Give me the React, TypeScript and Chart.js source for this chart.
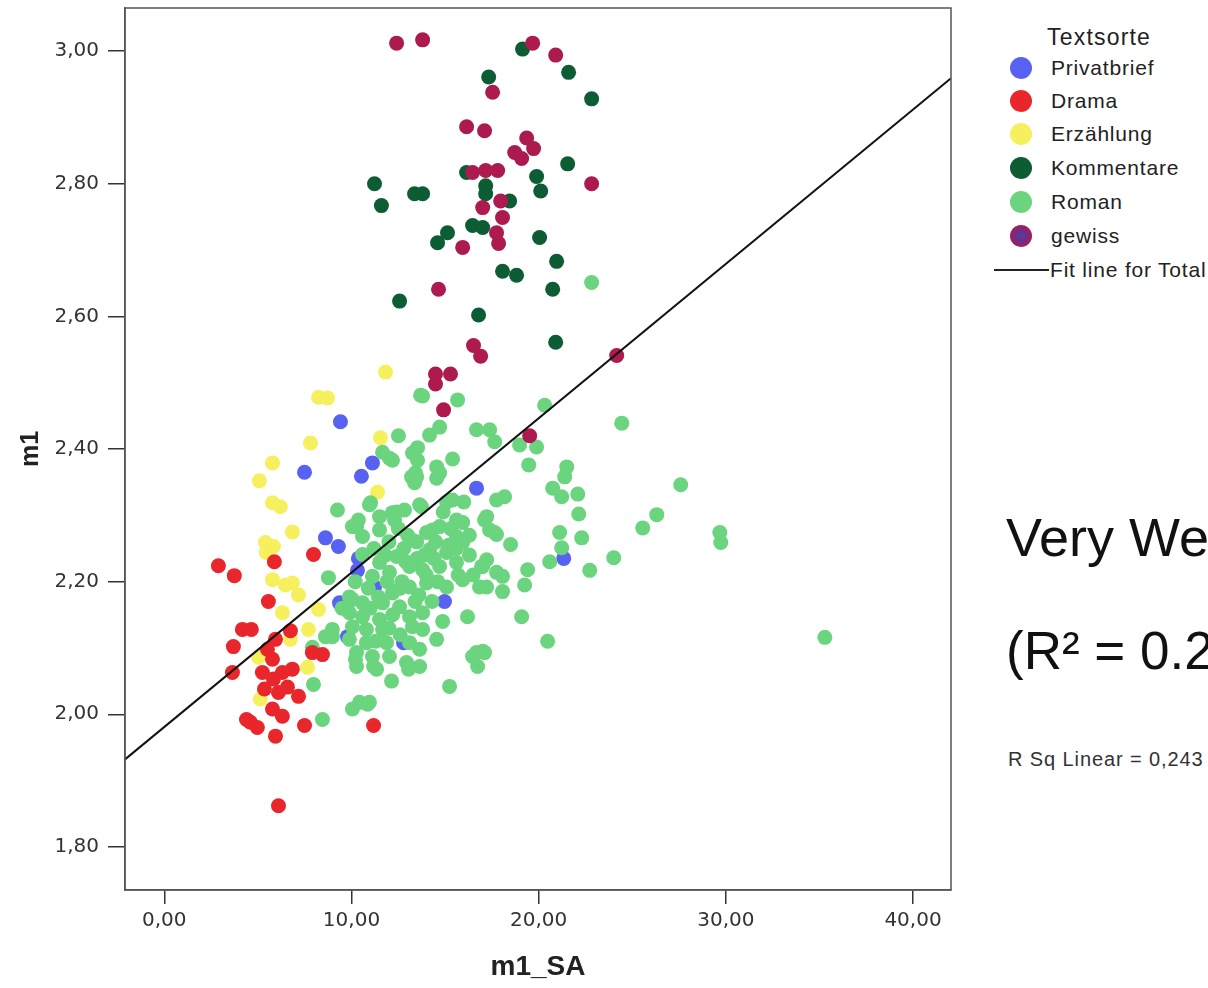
import React, { useEffect, useRef } from 'react';
import { Chart, registerables } from 'chart.js';

Chart.register(...registerables);

type Pair = [number, number];

const categories = ['Privatbrief', 'Drama', 'Erzählung', 'Kommentare', 'Roman', 'gewiss'];
const catColors = ['#5862f2', '#e9262b', '#f6f05e', '#0c5c34', '#6bd47f', '#ad1a50'];

const privatbrief: Pair[] = [
  [9.41, 2.441], [7.49, 2.365], [10.53, 2.359], [11.12, 2.379], [8.61, 2.266], [9.30, 2.253],
  [10.37, 2.235], [16.68, 2.341], [21.34, 2.235], [11.23, 2.192], [9.36, 2.168], [14.97, 2.170],
  [9.79, 2.117], [12.78, 2.108], [10.32, 2.217],
];

const drama: Pair[] = [
  [2.89, 2.224], [3.74, 2.209], [5.88, 2.230], [5.56, 2.170], [4.17, 2.128], [4.65, 2.128],
  [3.69, 2.102], [5.94, 2.113], [6.74, 2.126], [8.45, 2.090], [7.91, 2.093], [3.64, 2.063],
  [5.24, 2.063], [5.78, 2.083], [6.31, 2.063], [6.84, 2.068], [5.83, 2.053], [6.10, 2.033],
  [5.78, 2.008], [6.31, 1.997], [7.17, 2.027], [4.60, 1.988], [4.97, 1.980], [5.94, 1.967],
  [7.49, 1.983], [11.18, 1.983], [6.10, 1.862], [7.97, 2.241], [5.35, 2.038], [6.58, 2.041],
  [5.51, 2.098], [4.39, 1.992],
];

const erzaehlung: Pair[] = [
  [11.82, 2.516], [8.24, 2.478], [8.72, 2.477], [7.81, 2.409], [5.78, 2.379], [5.08, 2.352],
  [5.78, 2.319], [6.20, 2.313], [6.84, 2.275], [5.40, 2.259], [5.83, 2.253], [11.55, 2.417],
  [11.39, 2.335], [5.78, 2.203], [6.47, 2.195], [6.84, 2.198], [6.31, 2.153], [8.24, 2.158],
  [7.70, 2.128], [6.74, 2.113], [5.03, 2.086], [7.65, 2.071], [5.13, 2.023], [5.45, 2.244],
  [7.17, 2.180],
];

const kommentare: Pair[] = [
  [19.14, 3.003], [17.33, 2.961], [21.60, 2.968], [22.83, 2.928], [21.55, 2.830], [16.15, 2.817],
  [17.17, 2.797], [17.17, 2.785], [19.89, 2.811], [20.11, 2.789], [11.23, 2.800], [11.60, 2.767],
  [13.37, 2.785], [13.80, 2.785], [18.45, 2.774], [16.47, 2.737], [17.01, 2.734], [15.13, 2.726],
  [14.60, 2.711], [20.05, 2.719], [20.96, 2.683], [18.07, 2.668], [18.82, 2.662], [20.75, 2.641],
  [12.57, 2.623], [16.79, 2.602], [20.91, 2.561],
];

const roman: Pair[] = [
  [20.32, 2.466], [24.44, 2.439], [17.38, 2.429], [17.65, 2.411], [18.98, 2.406], [19.89, 2.403],
  [19.47, 2.376], [21.50, 2.373], [21.39, 2.358], [20.75, 2.341], [21.23, 2.328], [22.09, 2.332],
  [27.59, 2.346], [22.14, 2.302], [26.31, 2.301], [25.56, 2.281], [29.68, 2.274], [29.73, 2.259],
  [21.12, 2.274], [22.30, 2.266], [18.50, 2.256], [17.65, 2.274], [17.11, 2.293], [17.75, 2.323],
  [17.22, 2.233], [20.59, 2.230], [21.23, 2.251], [19.41, 2.218], [18.07, 2.208], [22.73, 2.217],
  [24.01, 2.236], [19.25, 2.195], [18.07, 2.185], [19.09, 2.147], [20.48, 2.110], [17.11, 2.093],
  [35.29, 2.116], [13.80, 2.480], [15.67, 2.474], [12.51, 2.420], [13.53, 2.402], [14.17, 2.421],
  [14.71, 2.433], [16.68, 2.429], [12.03, 2.386], [13.53, 2.383], [15.40, 2.385], [14.55, 2.373],
  [13.21, 2.358], [14.71, 2.364], [13.37, 2.349], [18.18, 2.328], [10.96, 2.316], [13.64, 2.316],
  [15.40, 2.323], [17.22, 2.298], [9.25, 2.308], [10.27, 2.283], [11.50, 2.298], [12.41, 2.305],
  [17.38, 2.278], [13.48, 2.260], [14.33, 2.278], [15.61, 2.268], [15.94, 2.289], [16.95, 2.223],
  [17.22, 2.192], [16.20, 2.147], [14.87, 2.140], [14.55, 2.113], [16.68, 2.093], [16.74, 2.072],
  [13.48, 2.358], [14.55, 2.356], [12.83, 2.308], [13.74, 2.313], [15.08, 2.320], [17.75, 2.271],
  [10.05, 2.283], [10.59, 2.268], [11.50, 2.278], [12.30, 2.293], [13.21, 2.263], [14.01, 2.274],
  [14.71, 2.283], [15.61, 2.293], [15.94, 2.259], [15.08, 2.244], [14.17, 2.248], [12.41, 2.238],
  [11.50, 2.229], [10.59, 2.241], [11.12, 2.208], [12.03, 2.214], [13.10, 2.223], [13.80, 2.218],
  [14.71, 2.223], [15.61, 2.229], [15.94, 2.203], [15.08, 2.192], [14.01, 2.198], [13.10, 2.192],
  [12.19, 2.183], [17.01, 2.223], [17.75, 2.214], [16.84, 2.192], [9.89, 2.177], [10.59, 2.168],
  [11.66, 2.168], [12.57, 2.162], [9.89, 2.153], [10.59, 2.147], [11.50, 2.143], [13.10, 2.147],
  [13.80, 2.153], [10.05, 2.132], [10.80, 2.128], [11.66, 2.128], [13.26, 2.132], [13.80, 2.128],
  [9.89, 2.113], [10.80, 2.108], [11.87, 2.108], [13.10, 2.108], [13.64, 2.098], [10.27, 2.093],
  [11.12, 2.087], [12.03, 2.087], [12.94, 2.078], [13.64, 2.072], [10.27, 2.072], [11.34, 2.068],
  [16.47, 2.087], [17.01, 2.095], [8.98, 2.128], [8.98, 2.117], [12.14, 2.050], [15.24, 2.042],
  [10.43, 2.018], [10.96, 2.018], [8.77, 2.206], [8.61, 2.117], [7.91, 2.101], [7.97, 2.045],
  [8.45, 1.992], [10.05, 2.008], [10.86, 2.015], [10.21, 2.083], [11.18, 2.072], [10.05, 2.173],
  [11.44, 2.177], [13.05, 2.068], [13.69, 2.481], [11.66, 2.395], [12.19, 2.383], [13.26, 2.394],
  [13.42, 2.364], [11.02, 2.319], [10.37, 2.293], [12.19, 2.304], [22.83, 2.651],
  [14.4, 2.235], [15.2, 2.255], [12.8, 2.25], [13.5, 2.235], [14.9, 2.305], [16.3, 2.27],
  [16.0, 2.32], [12.0, 2.26], [11.2, 2.25], [12.7, 2.2], [14.3, 2.17], [12.0, 2.13],
  [12.6, 2.12], [11.3, 2.11], [9.5, 2.16], [16.3, 2.24],
  [12.5, 2.28], [13.0, 2.27], [14.5, 2.26], [15.3, 2.28], [11.8, 2.24], [12.9, 2.23],
  [13.9, 2.24], [14.0, 2.21], [12.6, 2.19], [13.6, 2.18], [11.9, 2.2], [10.9, 2.19],
  [10.2, 2.2], [11.0, 2.16], [12.2, 2.15], [13.4, 2.17], [14.6, 2.2], [15.7, 2.21],
  [16.5, 2.21], [15.6, 2.25],
];

const gewiss: Pair[] = [
  [12.41, 3.012], [13.80, 3.017], [19.68, 3.012], [20.91, 2.994], [17.54, 2.938], [16.15, 2.886],
  [17.11, 2.880], [19.36, 2.869], [19.73, 2.853], [18.72, 2.847], [19.09, 2.838], [16.47, 2.817],
  [17.17, 2.820], [17.81, 2.820], [22.83, 2.800], [17.97, 2.774], [17.01, 2.764], [18.07, 2.749],
  [17.75, 2.726], [17.86, 2.710], [15.94, 2.704], [14.65, 2.641], [16.52, 2.556], [16.90, 2.540],
  [24.17, 2.541], [14.49, 2.513], [15.29, 2.513], [14.49, 2.498], [14.92, 2.459], [19.52, 2.420],
];

// Fit line for Total (endpoints at the axis limits)
const fitLine: Pair[] = [[-2.1, 1.932], [42.03, 2.959]];

const xTicks = [0, 10, 20, 30, 40];
const yTicks = [1.8, 2.0, 2.2, 2.4, 2.6, 2.8, 3.0];
const xRange: Pair = [-2.1, 42.03];
const yRange: Pair = [1.735, 3.065];

const seriesData = [privatbrief, drama, erzaehlung, kommentare, roman, gewiss];
const drawOrder = [5, 3, 6, 2, 4, 1];

const toPts = (arr: Pair[]) => arr.map(([x, y]) => ({ x, y }));
const fmt = (v: number) => Number(v).toFixed(2).replace('.', ',');

const framePlugin = {
  id: 'frame',
  afterDatasetsDraw(chart: any) {
    const { ctx, chartArea } = chart;
    const { left, top, right, bottom } = chartArea;
    ctx.save();
    ctx.strokeStyle = '#555';
    ctx.lineWidth = 1.5;
    ctx.strokeRect(left, top, right - left, bottom - top);
    ctx.restore();
  },
};

export default function App() {
  const ref = useRef<HTMLCanvasElement>(null);

  useEffect(() => {
    if (!ref.current) return;
    const datasets: any[] = categories.map((name, i) => ({
      type: 'scatter',
      label: name,
      data: toPts(seriesData[i]),
      backgroundColor: catColors[i],
      borderWidth: 0,
      pointRadius: 7.5,
      pointHoverRadius: 7.5,
      order: drawOrder[i],
    }));
    datasets.push({
      type: 'line',
      label: 'Fit line for Total',
      data: toPts(fitLine),
      borderColor: '#111',
      borderWidth: 2,
      pointRadius: 0,
      fill: false,
      order: 0,
    });
    const chart = new Chart(ref.current, {
      type: 'scatter',
      data: { datasets },
      plugins: [framePlugin],
      options: {
        animation: false,
        responsive: false,
        events: [],
        layout: { padding: { left: 0, top: 8, right: 9, bottom: 0 } },
        plugins: { legend: { display: false }, tooltip: { enabled: false } },
        scales: {
          x: {
            type: 'linear',
            min: xRange[0],
            max: xRange[1],
            afterBuildTicks: (s: any) => { s.ticks = xTicks.map((v) => ({ value: v })); },
            afterFit: (s: any) => { s.height = 98; s.paddingLeft = 0; s.paddingRight = 0; },
            grid: { drawOnChartArea: false, drawTicks: true, tickLength: 14, color: '#333', lineWidth: 1.5 },
            border: { display: true, color: '#555', width: 1.5 },
            ticks: {
              padding: 5,
              color: '#333',
              font: { family: 'DejaVu Sans', size: 20 },
              maxRotation: 0,
              autoSkip: false,
              callback: (v: any) => fmt(v),
            },
            title: {
              display: true,
              text: 'm1_SA',
              color: '#222',
              font: { family: 'Liberation Sans', size: 28, weight: 'bold' },
              padding: { top: 4, bottom: 4 },
            },
          },
          y: {
            type: 'linear',
            min: yRange[0],
            max: yRange[1],
            afterBuildTicks: (s: any) => { s.ticks = yTicks.map((v) => ({ value: v })); },
            afterFit: (s: any) => { s.width = 125; s.paddingTop = 0; s.paddingBottom = 0; },
            grid: { drawOnChartArea: false, drawTicks: true, tickLength: 17, color: '#333', lineWidth: 1.5 },
            border: { display: true, color: '#555', width: 1.5 },
            ticks: {
              padding: 9,
              color: '#333',
              font: { family: 'DejaVu Sans', size: 20 },
              autoSkip: false,
              callback: (v: any) => fmt(v),
            },
            title: {
              display: true,
              text: 'm1',
              color: '#222',
              font: { family: 'Liberation Sans', size: 25, weight: 'bold' },
              padding: { top: 16, bottom: 4 },
            },
          },
        },
      } as any,
    });
    return () => chart.destroy();
  }, []);

  const legendFont = "'Liberation Sans', Arial, sans-serif";
  const rowsY = [68, 101, 134, 168, 202, 236];

  return (
    <div style={{ position: 'absolute', left: 0, top: 0, width: 1208, height: 988, overflow: 'hidden', background: '#fff' }}>
      <canvas ref={ref} width={960} height={988} style={{ position: 'absolute', left: 0, top: 0, width: 960, height: 988 }} />
      <div style={{ position: 'absolute', left: 1047, top: 22, fontFamily: legendFont, fontSize: 23, letterSpacing: 1.2, color: '#222', lineHeight: '30px' }}>
        Textsorte
      </div>
      {categories.map((name, i) => (
        <div key={name}>
          <div
            style={{
              position: 'absolute',
              left: 1021 - 11,
              top: rowsY[i] - 11,
              width: 22,
              height: 22,
              borderRadius: '50%',
              background:
                name === 'gewiss'
                  ? 'radial-gradient(circle, #5a3a9a 0%, #6a3088 35%, #b0184f 75%)'
                  : catColors[i],
            }}
          />
          <div
            style={{
              position: 'absolute',
              left: 1051,
              top: rowsY[i] - 14,
              fontFamily: legendFont,
              fontSize: 21,
              letterSpacing: 0.8,
              lineHeight: '28px',
              color: '#222',
              whiteSpace: 'nowrap',
            }}
          >
            {name}
          </div>
        </div>
      ))}
      <div style={{ position: 'absolute', left: 994, top: 269, width: 55, height: 2, background: '#222' }} />
      <div style={{ position: 'absolute', left: 1050, top: 256, fontFamily: legendFont, fontSize: 21, letterSpacing: 0.8, lineHeight: '28px', color: '#222', whiteSpace: 'nowrap' }}>
        Fit line for Total
      </div>
      <div style={{ position: 'absolute', left: 1006, top: 505, fontFamily: legendFont, fontSize: 54, lineHeight: '64px', color: '#111', whiteSpace: 'nowrap' }}>
        Very Weak
      </div>
      <div style={{ position: 'absolute', left: 1006, top: 619, fontFamily: legendFont, fontSize: 53, lineHeight: '64px', color: '#111', whiteSpace: 'nowrap' }}>
        (R² = 0.24)
      </div>
      <div style={{ position: 'absolute', left: 1008, top: 746, fontFamily: legendFont, fontSize: 20, letterSpacing: 0.9, lineHeight: '26px', color: '#333', whiteSpace: 'nowrap' }}>
        R Sq Linear = 0,243
      </div>
    </div>
  );
}
